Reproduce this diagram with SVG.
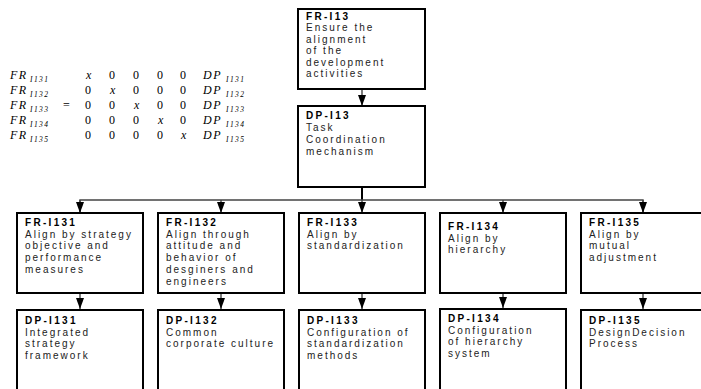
<svg xmlns="http://www.w3.org/2000/svg" width="701" height="389" viewBox="0 0 701 389">
  <style>
    .box { fill: #ffffff; stroke: #000000; stroke-width: 2; }
    .ttl { font-family: "Liberation Sans", Arial, sans-serif; font-size: 10px; font-weight: bold; letter-spacing: 2.3px; fill: #000000; }
    .txt { font-family: "Liberation Sans", Arial, sans-serif; font-size: 10px; letter-spacing: 2px; fill: #222222; }
    .wire { fill: none; stroke: #444444; stroke-width: 1.4; }
    .stem { fill: none; stroke: #000000; stroke-width: 2; }
    .mi { font-family: "Liberation Serif", "Times New Roman", serif; font-style: italic; font-size: 12px; letter-spacing: 1.5px; fill: #000000; }
    .ms { font-family: "Liberation Serif", "Times New Roman", serif; font-style: italic; font-size: 7.5px; letter-spacing: 1.4px; fill: #000000; }
    .mn { font-family: "Liberation Serif", "Times New Roman", serif; font-size: 12px; fill: #000000; }
  </style>
  <defs>
    <marker id="head" viewBox="0 0 11 8" refX="11" refY="4" markerWidth="11" markerHeight="8" markerUnits="userSpaceOnUse" orient="auto">
      <path d="M0,0 L11,4 L0,8 Z" fill="#000000"/>
    </marker>
  </defs>
  <rect width="701" height="389" fill="#ffffff"/>

  <!-- design matrix equation: FR = [A] DP -->
  <g id="matrix">
    <text class="mi" x="10" y="79">FR</text><text class="ms" x="30" y="81.5">I131</text>
    <text class="mi" x="10" y="94">FR</text><text class="ms" x="30" y="96.5">I132</text>
    <text class="mi" x="10" y="109">FR</text><text class="ms" x="30" y="111.5">I133</text>
    <text class="mi" x="10" y="124">FR</text><text class="ms" x="30" y="126.5">I134</text>
    <text class="mi" x="10" y="139">FR</text><text class="ms" x="30" y="141.5">I135</text>
    <text class="mn" x="63" y="109">=</text>

    <text class="mi" x="86" y="79">x</text><text class="mn" x="109" y="79">0</text><text class="mn" x="133" y="79">0</text><text class="mn" x="157" y="79">0</text><text class="mn" x="180" y="79">0</text>
    <text class="mn" x="85" y="94">0</text><text class="mi" x="110" y="94">x</text><text class="mn" x="133" y="94">0</text><text class="mn" x="157" y="94">0</text><text class="mn" x="180" y="94">0</text>
    <text class="mn" x="85" y="109">0</text><text class="mn" x="109" y="109">0</text><text class="mi" x="134" y="109">x</text><text class="mn" x="157" y="109">0</text><text class="mn" x="180" y="109">0</text>
    <text class="mn" x="85" y="124">0</text><text class="mn" x="109" y="124">0</text><text class="mn" x="133" y="124">0</text><text class="mi" x="158" y="124">x</text><text class="mn" x="180" y="124">0</text>
    <text class="mn" x="85" y="139">0</text><text class="mn" x="109" y="139">0</text><text class="mn" x="133" y="139">0</text><text class="mn" x="157" y="139">0</text><text class="mi" x="181" y="139">x</text>

    <text class="mi" x="203" y="79">DP</text><text class="ms" x="226" y="81.5">I131</text>
    <text class="mi" x="203" y="94">DP</text><text class="ms" x="226" y="96.5">I132</text>
    <text class="mi" x="203" y="109">DP</text><text class="ms" x="226" y="111.5">I133</text>
    <text class="mi" x="203" y="124">DP</text><text class="ms" x="226" y="126.5">I134</text>
    <text class="mi" x="203" y="139">DP</text><text class="ms" x="226" y="141.5">I135</text>
  </g>

  <!-- connectors -->
  <g id="connectors">
    <line class="wire" x1="362" y1="89" x2="362" y2="106" marker-end="url(#head)"/>
    <line class="stem" x1="362" y1="187" x2="362" y2="200"/>
    <polyline class="wire" points="80,213 80,200 643,200 643,213"/>
    <line class="wire" x1="80" y1="200" x2="80" y2="213" marker-end="url(#head)"/>
    <line class="wire" x1="221" y1="200" x2="221" y2="213" marker-end="url(#head)"/>
    <line class="wire" x1="362" y1="200" x2="362" y2="213" marker-end="url(#head)"/>
    <line class="wire" x1="503" y1="200" x2="503" y2="213" marker-end="url(#head)"/>
    <line class="wire" x1="643" y1="200" x2="643" y2="213" marker-end="url(#head)"/>
    <line class="wire" x1="80" y1="293" x2="80" y2="309" marker-end="url(#head)"/>
    <line class="wire" x1="221" y1="293" x2="221" y2="309" marker-end="url(#head)"/>
    <line class="wire" x1="362" y1="293" x2="362" y2="309" marker-end="url(#head)"/>
    <line class="wire" x1="503" y1="293" x2="503" y2="308" marker-end="url(#head)"/>
    <line class="wire" x1="643" y1="293" x2="643" y2="309" marker-end="url(#head)"/>
  </g>

  <g id="fr-i13">
    <rect class="box" x="298" y="9" width="127" height="80"/>
    <text class="ttl" x="306" y="19.5">FR-I13</text>
    <text class="txt" x="306" y="31">Ensure the</text>
    <text class="txt" x="306" y="42.5">alignment</text>
    <text class="txt" x="306" y="54">of the</text>
    <text class="txt" x="306" y="65.5">development</text>
    <text class="txt" x="306" y="77">activities</text>
  </g>

  <g id="dp-i13">
    <rect class="box" x="298" y="106" width="127" height="81"/>
    <text class="ttl" x="306" y="119">DP-I13</text>
    <text class="txt" x="306" y="131">Task</text>
    <text class="txt" x="306" y="143">Coordination</text>
    <text class="txt" x="306" y="155">mechanism</text>
  </g>

  <g id="fr-i131">
    <rect class="box" x="17" y="213" width="126" height="80"/>
    <text class="ttl" x="25" y="226">FR-I131</text>
    <text class="txt" x="25" y="237.7">Align by strategy</text>
    <text class="txt" x="25" y="249.4">objective and</text>
    <text class="txt" x="25" y="261.1">performance</text>
    <text class="txt" x="25" y="272.8">measures</text>
  </g>

  <g id="fr-i132">
    <rect class="box" x="158" y="213" width="126" height="80"/>
    <text class="ttl" x="166" y="226">FR-I132</text>
    <text class="txt" x="166" y="237.7">Align through</text>
    <text class="txt" x="166" y="249.4">attitude and</text>
    <text class="txt" x="166" y="261.1">behavior of</text>
    <text class="txt" x="166" y="272.8">desginers and</text>
    <text class="txt" x="166" y="284.5">engineers</text>
  </g>

  <g id="fr-i133">
    <rect class="box" x="299" y="213" width="126" height="80"/>
    <text class="ttl" x="307" y="226">FR-I133</text>
    <text class="txt" x="307" y="237.7">Align by</text>
    <text class="txt" x="307" y="249.4">standardization</text>
  </g>

  <g id="fr-i134">
    <rect class="box" x="440" y="213" width="126" height="80"/>
    <text class="ttl" x="448" y="230">FR-I134</text>
    <text class="txt" x="448" y="241.7">Align by</text>
    <text class="txt" x="448" y="253.4">hierarchy</text>
  </g>

  <g id="fr-i135">
    <rect class="box" x="581" y="213" width="126" height="80"/>
    <text class="ttl" x="589" y="226">FR-I135</text>
    <text class="txt" x="589" y="237.7">Align by</text>
    <text class="txt" x="589" y="249.4">mutual</text>
    <text class="txt" x="589" y="261.1">adjustment</text>
  </g>

  <g id="dp-i131">
    <rect class="box" x="17" y="310" width="126" height="100"/>
    <text class="ttl" x="25" y="324">DP-I131</text>
    <text class="txt" x="25" y="335.7">Integrated</text>
    <text class="txt" x="25" y="347.4">strategy</text>
    <text class="txt" x="25" y="359.1">framework</text>
  </g>

  <g id="dp-i132">
    <rect class="box" x="158" y="310" width="126" height="100"/>
    <text class="ttl" x="166" y="324">DP-I132</text>
    <text class="txt" x="166" y="335.7">Common</text>
    <text class="txt" x="166" y="347.4">corporate culture</text>
  </g>

  <g id="dp-i133">
    <rect class="box" x="299" y="310" width="126" height="100"/>
    <text class="ttl" x="307" y="324">DP-I133</text>
    <text class="txt" x="307" y="335.7">Configuration of</text>
    <text class="txt" x="307" y="347.4">standardization</text>
    <text class="txt" x="307" y="359.1">methods</text>
  </g>

  <g id="dp-i134">
    <rect class="box" x="440" y="309" width="126" height="100"/>
    <text class="ttl" x="448" y="322">DP-I134</text>
    <text class="txt" x="448" y="333.7">Configuration</text>
    <text class="txt" x="448" y="345.4">of hierarchy</text>
    <text class="txt" x="448" y="357.1">system</text>
  </g>

  <g id="dp-i135">
    <rect class="box" x="581" y="310" width="126" height="100"/>
    <text class="ttl" x="589" y="324">DP-I135</text>
    <text class="txt" x="589" y="335.7">DesignDecision</text>
    <text class="txt" x="589" y="347.4">Process</text>
  </g>
</svg>
